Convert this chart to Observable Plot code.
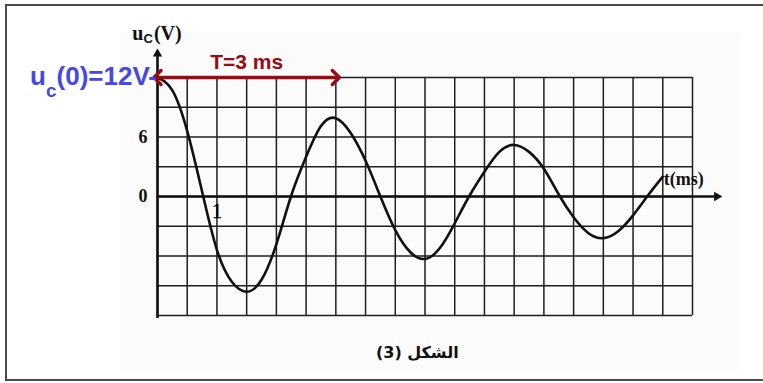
<!DOCTYPE html>
<html><head><meta charset="utf-8">
<script src="https://cdn.jsdelivr.net/npm/d3@7"></script>
<script src="https://cdn.jsdelivr.net/npm/@observablehq/plot@0.6"></script>
<style>
html,body{margin:0;padding:0;background:#fff;overflow:hidden;}
#wrap{position:relative;width:763px;height:383px;overflow:hidden;background:#fff;}
#frame{position:absolute;left:5px;top:4px;width:820px;height:377px;border:2px solid #4a4a4a;border-right:none;box-sizing:border-box;}
#panel{position:absolute;left:120px;top:33px;width:620px;height:337px;background:#fbfbfb;}
#chart{position:absolute;left:0;top:0;}
</style>
</head><body>
<div id="wrap"><div id="frame"></div><div id="panel"></div><div id="chart"></div></div>
<script>
// ---- data ----
const timeMs = [0,0.25,0.5,0.75,1,1.25,1.5,1.75,2,2.25,2.5,2.75,3,3.25,3.5,3.75,4,4.25,4.5,4.75,5,5.25,5.5,5.75,6,6.25,6.5,6.75,7,7.25,7.5,7.75,8,8.25,8.5];
const ucVolts = [12,10.7,6.6,0.5,-5.4,-8.6,-9.6,-8.4,-4.8,0.1,4.0,7.1,7.9,6.4,3.6,0,-3.4,-5.6,-6.3,-5.2,-2.7,0.1,2.5,4.5,5.2,4.5,2.8,0.2,-2.1,-3.7,-4.2,-3.5,-1.9,0.1,2.0];
const gridTimes = d3.range(0, 9.001, 0.5);
const gridVolts = d3.range(-12, 12.001, 3);
const yTickValues = [6, 0];
const yTickLabels = ["6", "0"];
const xTickValues = [1];
const xTickLabels = ["1"];
const periodMs = [3];
const initialVolts = [12];
const captionText = ["الشكل (3)"];

// ---- layout config ----
const tDomain = [0, 9], vDomain = [-12, 12];
const xArrowT = 9.41, yArrowV = 14.38;

const curve = timeMs.map((t, i) => ({t, v: ucVolts[i]}));
const serif = "Liberation Serif, Times New Roman, serif";
const sans = "Liberation Sans, Arial, sans-serif";

const chart = Plot.plot({
  width: 763, height: 383,
  marginLeft: 157, marginRight: 71, marginTop: 77, marginBottom: 68,
  x: {domain: tDomain, axis: null},
  y: {domain: vDomain, axis: null},
  style: {background: "transparent", overflow: "visible"},
  marks: [
    Plot.ruleX(gridTimes, {y1: vDomain[0], y2: vDomain[1], stroke: "#1e1e1e", strokeWidth: 1.5}),
    Plot.ruleY(gridVolts, {x1: tDomain[0], x2: tDomain[1], stroke: "#1e1e1e", strokeWidth: 1.5}),
    Plot.ruleX([0], {y1: -12.3, y2: yArrowV, stroke: "#111", strokeWidth: 2.6}),
    Plot.ruleY([0], {x1: 0, x2: xArrowT, stroke: "#111", strokeWidth: 2.6}),
    Plot.dot([0], {x: 0, y: yArrowV, symbol: "triangle2", r: 4.5, fill: "#111", stroke: null}),
    Plot.dot([0], {x: xArrowT, y: 0, symbol: "triangle2", r: 4.5, fill: "#111", stroke: null, rotate: 90}),
    Plot.line(curve, {x: "t", y: "v", curve: "natural", stroke: "#111", strokeWidth: 2.6}),
    Plot.text(yTickValues, {x: 0, y: d => d, text: (d, i) => yTickLabels[i], textAnchor: "end", dx: -10, fontFamily: serif, fontWeight: "bold", fontSize: 18, fill: "#111"}),
    Plot.text(xTickValues, {x: d => d, y: 0, text: (d, i) => xTickLabels[i], dy: 15, fontFamily: serif, fontSize: 20, fill: "#000", stroke: "#000", strokeWidth: 0.4}),
    Plot.text(["t(ms)"], {x: 8.5, y: 0, text: d => d, textAnchor: "start", dy: -17, dx: 1, fontFamily: serif, fontWeight: "bold", fontSize: 18, fill: "#111"}),
    Plot.link(periodMs, {x1: 0, x2: d => d, y1: initialVolts[0], y2: initialVolts[0], stroke: "#9a0a14", strokeWidth: 3.5, markerStart: "arrow-reverse", markerEnd: "arrow"}),
    Plot.text(periodMs, {x: d => d / 2, y: initialVolts[0], text: d => `T=${d} ms`, dy: -15, fontFamily: sans, fontWeight: "bold", fontSize: 21, fill: "#9a0a14"}),
    Plot.text(captionText, {x: 4.37, y: vDomain[0], text: d => d, dy: 37, fontFamily: "DejaVu Sans, sans-serif", fontWeight: "bold", fontSize: 16, fill: "#111"})
  ]
});
document.getElementById("chart").appendChild(chart);

// labels with subscripts, positioned through the plot scales
const xs = chart.scale("x"), ys = chart.scale("y");
const svg = d3.select(chart);
const blue = svg.append("text")
  .attr("x", xs.apply(0)).attr("y", ys.apply(initialVolts[0]) + 8)
  .attr("text-anchor", "end").attr("font-family", sans).attr("font-weight", "bold")
  .attr("font-size", 26).attr("fill", "#4747e4");
blue.append("tspan").text("u");
blue.append("tspan").attr("font-size", 19).attr("dy", 12).text("c");
blue.append("tspan").attr("dy", -12).text(`(0)=${initialVolts[0]}V-`);

const ylab = svg.append("text")
  .attr("x", xs.apply(0)).attr("y", ys.apply(yArrowV) - 13)
  .attr("font-family", serif).attr("font-weight", "bold").attr("font-size", 20).attr("fill", "#111");
ylab.append("tspan").text("u");
ylab.append("tspan").attr("font-family", sans).attr("font-size", 13).attr("dy", 3).text("C");
ylab.append("tspan").attr("dy", -3).attr("dx", 1).text("(V)");
</script>
</body></html>
